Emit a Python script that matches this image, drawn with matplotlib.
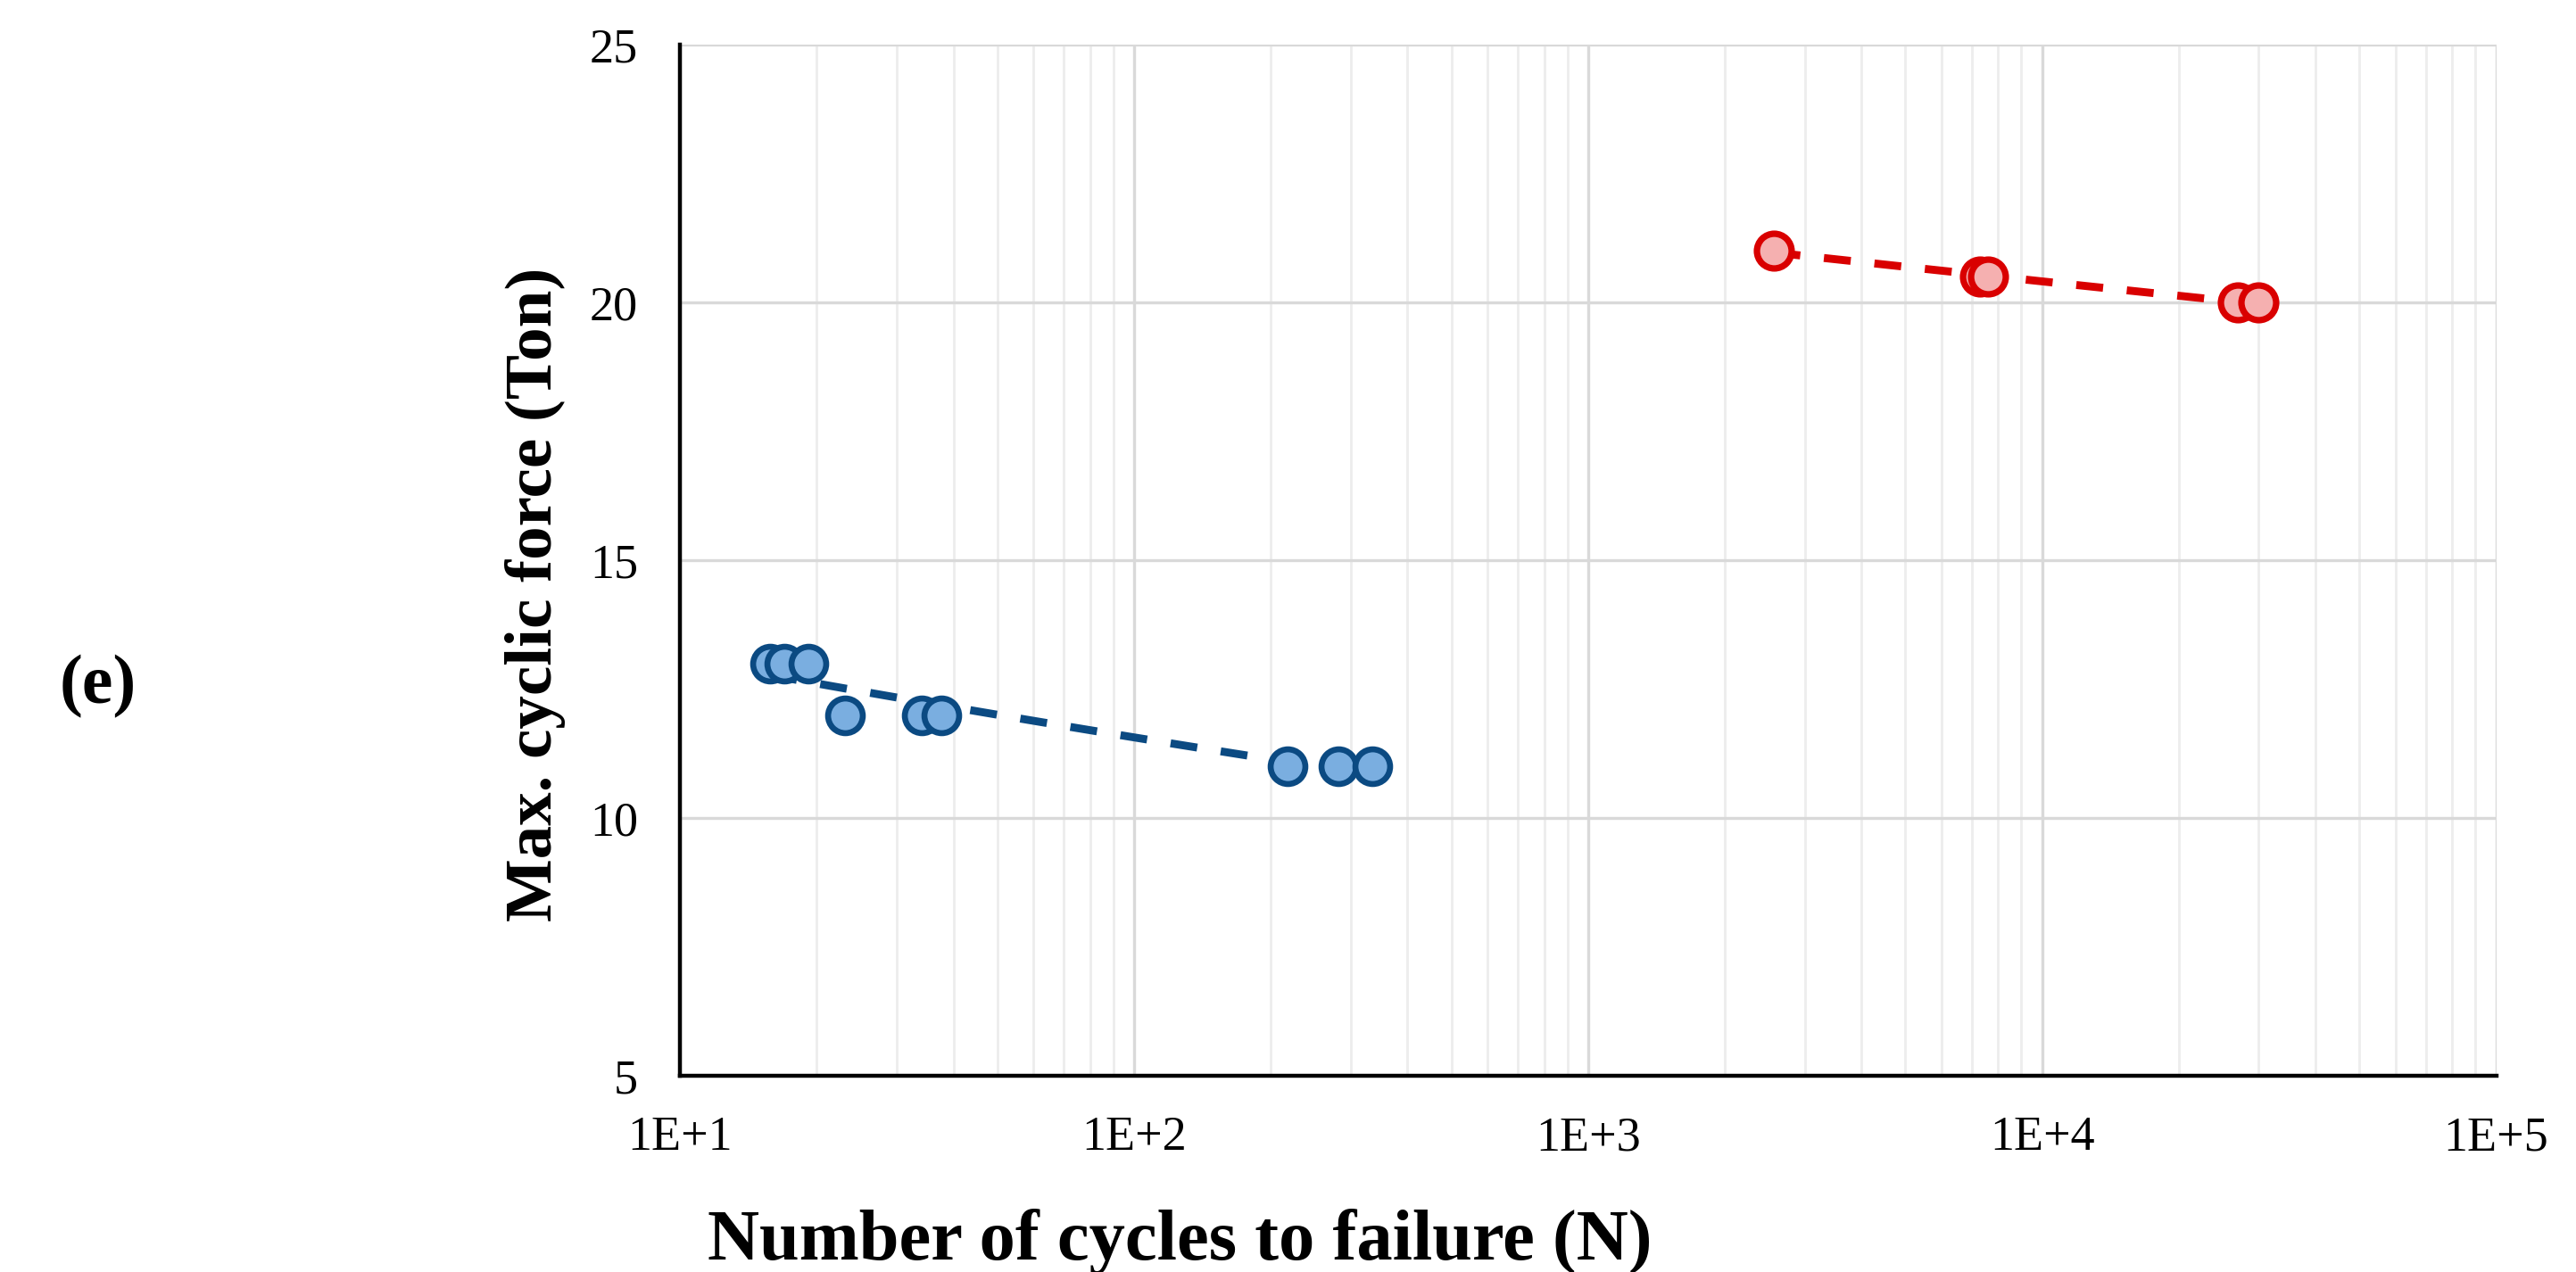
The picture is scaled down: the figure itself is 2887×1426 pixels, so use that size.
import numpy as np
import matplotlib.pyplot as plt
from matplotlib.ticker import FixedLocator, LogLocator, NullFormatter

plt.rcParams['font.family'] = ['Liberation Serif', 'DejaVu Serif']

# data
blue_cycles = [15.8, 17.0, 19.2, 23.1, 34.1, 37.6, 218, 282, 335]
blue_force = [13, 13, 13, 12, 12, 12, 11, 11, 11]
red_cycles = [2560, 7300, 7600, 27000, 30000]
red_force = [21, 20.5, 20.5, 20, 20]

x_ticks = [1e1, 1e2, 1e3, 1e4, 1e5]
x_tick_labels = ['1E+1', '1E+2', '1E+3', '1E+4', '1E+5']
y_ticks = [5, 10, 15, 20, 25]


def power_trend(x, y):
    # Excel style power trendline, fitted in log-log space
    b, a = np.polyfit(np.log(x), np.log(y), 1)
    xs = np.logspace(np.log10(min(x)), np.log10(max(x)), 50)
    return xs, np.exp(a) * xs ** b


fig = plt.figure(figsize=(14.435, 7.13), dpi=200)
ax = fig.add_axes([0.264, 0.154, 0.705, 0.811])

ax.set_xscale('log')
ax.set_xlim(1e1, 1e5)
ax.set_ylim(5, 25)

# gridlines
ax.xaxis.set_major_locator(FixedLocator(x_ticks))
ax.xaxis.set_minor_locator(LogLocator(base=10, subs=np.arange(2, 10)))
ax.xaxis.set_minor_formatter(NullFormatter())
ax.set_xticklabels(x_tick_labels)
ax.set_yticks(y_ticks)
ax.grid(which='major', color='#D9D9D9', linewidth=1.2)
ax.grid(which='minor', axis='x', color='#EDEDED', linewidth=1.0)
ax.set_axisbelow(True)

for side in ['top', 'right']:
    ax.spines[side].set_visible(False)
for side in ['left', 'bottom']:
    ax.spines[side].set_linewidth(1.6)
    ax.spines[side].set_color('black')

ax.tick_params(which='both', length=0)
ax.tick_params(axis='x', pad=16, labelsize=19.5)
ax.tick_params(axis='y', pad=17, labelsize=19.5)

# trendlines
xs, ys = power_trend(blue_cycles, blue_force)
ax.plot(xs, ys, color='#0B4A82', linewidth=3.2, dashes=(3.4, 3.0), zorder=3)
xs, ys = power_trend(red_cycles, red_force)
ax.plot(xs, ys, color='#D90000', linewidth=3.2, dashes=(3.4, 3.0), zorder=3)

# points
ax.plot(blue_cycles, blue_force, 'o', markersize=14, markerfacecolor='#7AAEE0',
        markeredgecolor='#0B4A82', markeredgewidth=2.4, zorder=4)
ax.plot(red_cycles, red_force, 'o', markersize=14, markerfacecolor='#F5B0B0',
        markeredgecolor='#D90000', markeredgewidth=2.6, zorder=4)

fig.text(0.458, 0.01, 'Number of cycles to failure (N)', fontsize=29,
         fontweight='bold', ha='center', va='baseline')
fig.text(0.208, 0.533, 'Max. cyclic force (Ton)', fontsize=27,
         fontweight='bold', ha='center', va='center', rotation=90)
fig.text(0.038, 0.46, '(e)', fontsize=28, fontweight='bold',
         ha='center', va='center')

fig.savefig('out.png', dpi=200, facecolor='white')
